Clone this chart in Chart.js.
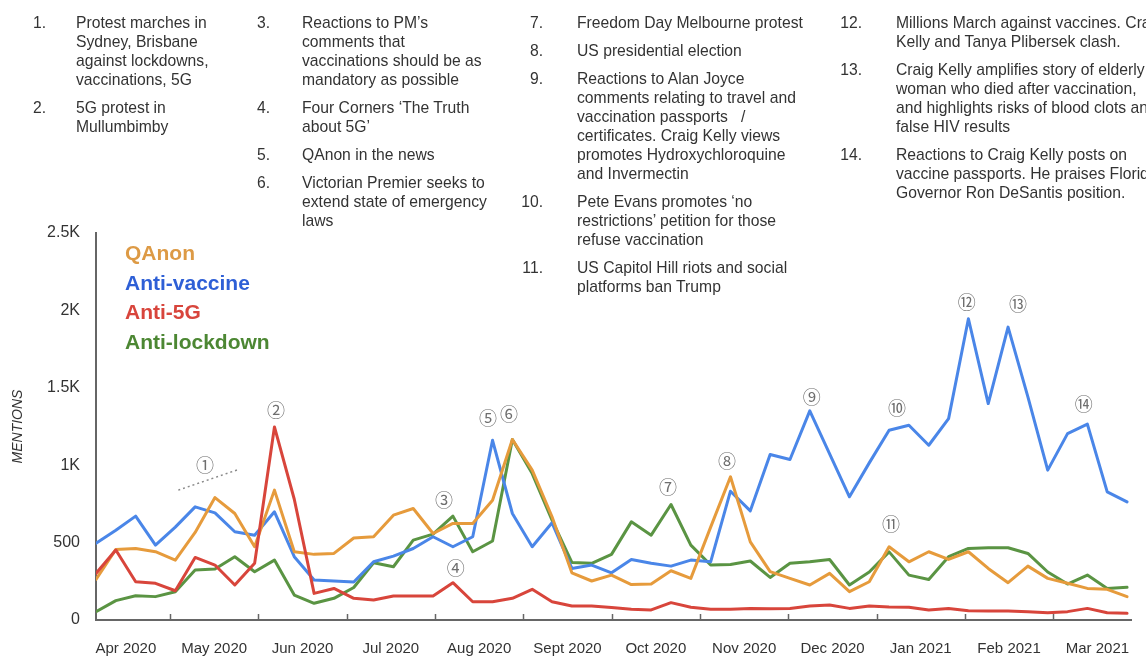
<!DOCTYPE html>
<html>
<head>
<meta charset="utf-8">
<script src="https://cdn.jsdelivr.net/npm/chart.js@4.4.0/dist/chart.umd.min.js"></script>
<style>
  body { margin: 0; background: #fff; }
  #page { position: relative; width: 1146px; height: 659px; overflow: hidden; font-family: "Liberation Sans", Arial, sans-serif; }
  #chartBox { position: absolute; left: 0; top: 0; width: 1146px; height: 659px; }
  .notes { position: absolute; top: 13px; color: #333; font-size: 15.7px; line-height: 19px; white-space: nowrap; }
  .item { position: relative; margin-bottom: 9px; }
  .num { position: absolute; top: 0; left: -74px; width: 40px; text-align: right; }
  .num.l { text-align: left; left: -43px; }
</style>
</head>
<body>
<div id="page">
  <div id="chartBox"><canvas id="mentions-chart"></canvas></div>

  <div class="notes" style="left:76px">
    <div class="item"><span class="num l">1.</span>Protest marches in<br>Sydney, Brisbane<br>against lockdowns,<br>vaccinations, 5G</div>
    <div class="item"><span class="num l">2.</span>5G protest in<br>Mullumbimby</div>
  </div>
  <div class="notes" style="left:302px">
    <div class="item"><span class="num l" style="left:-45px">3.</span>Reactions to PM’s<br>comments that<br>vaccinations should be as<br>mandatory as possible</div>
    <div class="item"><span class="num l" style="left:-45px">4.</span>Four Corners ‘The Truth<br>about 5G’</div>
    <div class="item"><span class="num l" style="left:-45px">5.</span>QAnon in the news</div>
    <div class="item"><span class="num l" style="left:-45px">6.</span>Victorian Premier seeks to<br>extend state of emergency<br>laws</div>
  </div>
  <div class="notes" style="left:577px">
    <div class="item"><span class="num">7.</span>Freedom Day Melbourne protest</div>
    <div class="item"><span class="num">8.</span>US presidential election</div>
    <div class="item"><span class="num">9.</span>Reactions to Alan Joyce<br>comments relating to travel and<br>vaccination passports &nbsp; /<br>certificates. Craig Kelly views<br>promotes Hydroxychloroquine<br>and Invermectin</div>
    <div class="item"><span class="num">10.</span>Pete Evans promotes ‘no<br>restrictions’ petition for those<br>refuse vaccination</div>
    <div class="item"><span class="num">11.</span>US Capitol Hill riots and social<br>platforms ban Trump</div>
  </div>
  <div class="notes" style="left:896px">
    <div class="item"><span class="num">12.</span>Millions March against vaccines. Craig<br>Kelly and Tanya Plibersek clash.</div>
    <div class="item"><span class="num">13.</span>Craig Kelly amplifies story of elderly<br>woman who died after vaccination,<br>and highlights risks of blood clots and<br>false HIV results</div>
    <div class="item"><span class="num">14.</span>Reactions to Craig Kelly posts on<br>vaccine passports. He praises Florida<br>Governor Ron DeSantis position.</div>
  </div>
</div>

<script>
// weekly mentions (53 weeks, Apr 2020 - Mar 2021)
var qanon = [262, 456, 462, 441, 387, 566, 791, 688, 473, 839, 441, 424, 430, 530, 538, 677, 720, 559, 624, 624, 774, 1166, 968, 667, 305, 252, 290, 229, 232, 318, 269, 600, 925, 505, 312, 269, 226, 301, 183, 247, 473, 376, 441, 391, 441, 333, 241, 348, 269, 237, 204, 198, 151];
var antiVaccine = [495, 580, 671, 484, 600, 731, 692, 570, 548, 699, 409, 258, 252, 245, 376, 413, 462, 538, 473, 538, 1161, 688, 473, 628, 333, 355, 305, 391, 366, 348, 387, 376, 832, 705, 1069, 1037, 1351, 1073, 796, 1015, 1226, 1258, 1129, 1301, 1946, 1398, 1892, 1441, 968, 1204, 1265, 828, 763];
var anti5g = [301, 452, 247, 237, 189, 404, 355, 226, 366, 1247, 780, 172, 204, 140, 129, 155, 155, 155, 241, 118, 118, 140, 198, 118, 90, 90, 80, 70, 65, 112, 82, 69, 69, 75, 73, 75, 90, 97, 75, 90, 84, 82, 65, 75, 60, 58, 58, 54, 47, 54, 75, 47, 43];
var antiLockdown = [54, 125, 157, 151, 183, 323, 329, 409, 312, 387, 161, 108, 140, 210, 370, 344, 516, 555, 671, 441, 510, 1166, 946, 645, 372, 366, 424, 634, 548, 746, 484, 355, 359, 381, 275, 366, 376, 391, 226, 310, 440, 290, 262, 409, 462, 467, 467, 430, 310, 232, 290, 204, 211];

var monthLabels = ["Apr 2020", "May 2020", "Jun 2020", "Jul 2020", "Aug 2020", "Sept 2020", "Oct 2020", "Nov 2020", "Dec 2020", "Jan 2021", "Feb 2021", "Mar 2021"];
// month boundaries in week units, as drawn on the original axis
var monthStarts = [-0.72, 3.73, 8.19, 12.64, 17.10, 21.55, 26.01, 30.46, 34.92, 39.37, 43.82, 48.28, 52.73];

// numbered event markers (week, mentions)
var callouts = [
  { text: "①", x: 5.5, y: 1000 },
  { text: "②", x: 9.08, y: 1355 },
  { text: "③", x: 17.55, y: 774 },
  { text: "④", x: 18.15, y: 335 },
  { text: "⑤", x: 19.77, y: 1303 },
  { text: "⑥", x: 20.83, y: 1329 },
  { text: "⑦", x: 28.85, y: 858 },
  { text: "⑧", x: 31.82, y: 1026 },
  { text: "⑨", x: 36.1, y: 1439 },
  { text: "⑩", x: 40.4, y: 1368 },
  { text: "⑪", x: 40.1, y: 619 },
  { text: "⑫", x: 43.92, y: 2052 },
  { text: "⑬", x: 46.5, y: 2039 },
  { text: "⑭", x: 49.82, y: 1394 }
];
var protestSpan = [{ x: 4.15, y: 839 }, { x: 7.18, y: 972 }];

var monthMids = monthLabels.map(function (_, i) {
  return (monthStarts[i] + monthStarts[i + 1]) / 2;
});

function toPoints(values) {
  return values.map(function (v, i) {
    return { x: i, y: v };
  });
}

var FONT = "'Liberation Sans', Arial, sans-serif";

var extras = {
  id: "extras",
  afterDatasetsDraw: function (chart) {
    var ctx = chart.ctx;
    var a = chart.chartArea;
    var xs = chart.scales.x;
    var ys = chart.scales.y;
    ctx.save();

    // month tick marks pointing up from the axis
    ctx.strokeStyle = "#666";
    ctx.lineWidth = 1.5;
    monthStarts.forEach(function (m) {
      if (m <= xs.min || m >= xs.max) return;
      var px = Math.round(xs.getPixelForValue(m)) + 0.5;
      ctx.beginPath();
      ctx.moveTo(px, a.bottom);
      ctx.lineTo(px, a.bottom - 6);
      ctx.stroke();
    });

    // dotted span for event 1
    ctx.strokeStyle = "#8a8a8a";
    ctx.setLineDash([2, 3]);
    ctx.beginPath();
    ctx.moveTo(xs.getPixelForValue(protestSpan[0].x), ys.getPixelForValue(protestSpan[0].y));
    ctx.lineTo(xs.getPixelForValue(protestSpan[1].x), ys.getPixelForValue(protestSpan[1].y));
    ctx.stroke();
    ctx.setLineDash([]);

    // circled event numbers
    ctx.fillStyle = "#6e6e6e";
    ctx.font = "18px 'Noto Sans CJK JP', 'DejaVu Sans', sans-serif";
    ctx.textAlign = "center";
    ctx.textBaseline = "middle";
    callouts.forEach(function (c) {
      ctx.fillText(c.text, xs.getPixelForValue(c.x), ys.getPixelForValue(c.y));
    });

    // inline legend
    ctx.font = "bold 21px " + FONT;
    ctx.textAlign = "left";
    chart.data.datasets.forEach(function (ds, i) {
      ctx.fillStyle = ds.legendColor;
      ctx.fillText(ds.label, a.left + 29, a.top + 21 + i * 29.8);
    });
    ctx.restore();
  }
};

var ctxMentions = document.getElementById("mentions-chart").getContext("2d");

var mentionsChart = new Chart(ctxMentions, {
  type: "line",
  data: {
    datasets: [
      { label: "QAnon", data: toPoints(qanon), borderColor: "#e69b3c", legendColor: "#dd9a45", order: 1 },
      { label: "Anti-vaccine", data: toPoints(antiVaccine), borderColor: "#4a86e8", legendColor: "#2e5fd6", order: 2 },
      { label: "Anti-5G", data: toPoints(anti5g), borderColor: "#d8453b", legendColor: "#d8453c", order: 0 },
      { label: "Anti-lockdown", data: toPoints(antiLockdown), borderColor: "#5a9443", legendColor: "#4c8733", order: 3 }
    ]
  },
  options: {
    responsive: true,
    maintainAspectRatio: false,
    animation: false,
    layout: { padding: { top: 233, right: 15, left: 0, bottom: 0 } },
    elements: {
      line: { borderWidth: 3, tension: 0, borderJoinStyle: "round", borderCapStyle: "round", fill: false },
      point: { radius: 0, hoverRadius: 0 }
    },
    plugins: {
      legend: { display: false },
      tooltip: { enabled: false }
    },
    scales: {
      x: {
        type: "linear",
        min: 0,
        max: 52.2,
        afterBuildTicks: function (scale) {
          scale.ticks = monthMids.map(function (v) { return { value: v }; });
        },
        afterFit: function (scale) { scale.height = 39; },
        ticks: {
          autoSkip: false,
          maxRotation: 0,
          padding: 12,
          color: "#333",
          font: { family: FONT, size: 15 },
          callback: function (value, index) { return monthLabels[index]; }
        },
        grid: { display: false },
        border: { display: true, color: "#666", width: 2 }
      },
      y: {
        min: 0,
        max: 2500,
        afterFit: function (scale) { scale.width = 96; },
        ticks: {
          stepSize: 500,
          padding: 8,
          color: "#333",
          font: { family: FONT, size: 16 },
          callback: function (v) { return v >= 1000 ? v / 1000 + "K" : v; }
        },
        grid: { display: false },
        border: { display: true, color: "#666", width: 2 },
        title: {
          display: true,
          text: "MENTIONS",
          color: "#333",
          font: { family: FONT, size: 14, style: "italic" },
          padding: { top: 10, bottom: 0 }
        }
      }
    }
  },
  plugins: [extras]
});
</script>
</body>
</html>
